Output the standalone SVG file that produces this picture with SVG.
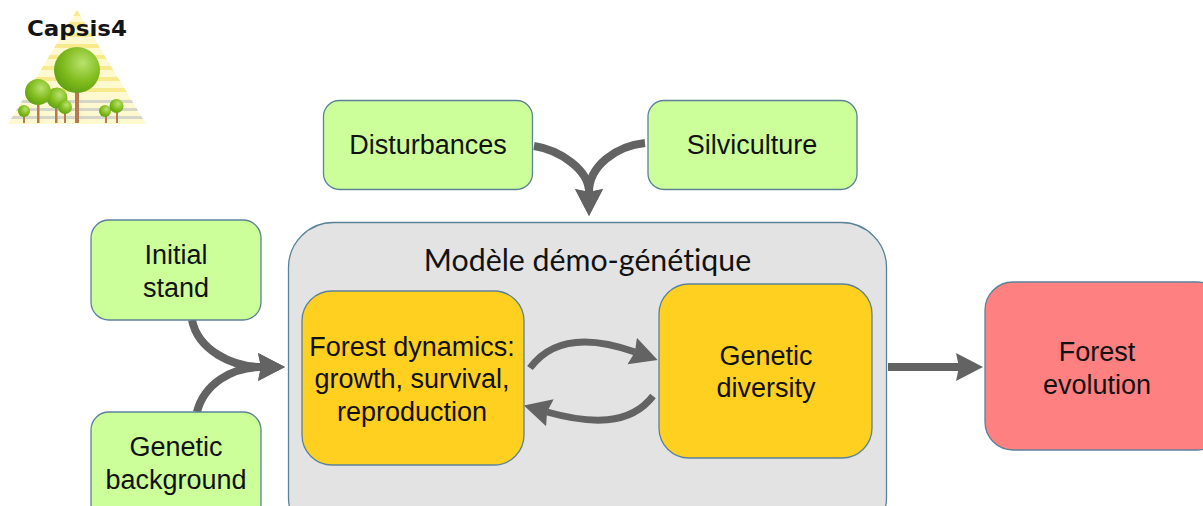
<svg xmlns="http://www.w3.org/2000/svg" width="1203" height="506" viewBox="0 0 1203 506">
<style>
.n{stroke:#5b8299;stroke-width:1.3}
.g{fill:#ccff99}
.y{fill:#ffd01f}
.t{font-family:"Liberation Sans",Arial,sans-serif;font-size:27px;fill:#111;text-anchor:middle}
.c{fill:none;stroke:#636363;stroke-width:8}
.w{stroke-width:7}
.st{fill:#f8ea8c}
.gr{fill:#d6d6c8}
</style>
<defs>
<marker id="h" markerUnits="userSpaceOnUse" markerWidth="32" markerHeight="32" refX="3" refY="15" orient="auto"><path d="M0 1L27 15L0 29L3 15Z" fill="#636363"/></marker>
<radialGradient id="b" cx="0.62" cy="0.35" r="0.7"><stop offset="0" stop-color="#b9e26d"/><stop offset="0.6" stop-color="#7fbb1c"/><stop offset="1" stop-color="#5f9f10"/></radialGradient>
<filter id="s" x="-5%" y="-5%" width="110%" height="110%"><feGaussianBlur stdDeviation="0.7"/></filter>
<clipPath id="tri"><path d="M77 10L146 124H8Z"/></clipPath>
</defs>

<g id="logo" filter="url(#s)">
<path d="M77 10L146 124H8Z" fill="#fff9cf"/>
<g clip-path="url(#tri)">
<rect class="st" x="0" y="10" width="160" height="6"/><rect class="st" x="0" y="22" width="160" height="5"/><rect class="st" x="0" y="33" width="160" height="4"/>
<rect class="st" x="0" y="44" width="160" height="4"/><rect class="st" x="0" y="55" width="160" height="4"/><rect class="st" x="0" y="66" width="160" height="4"/>
<rect class="st" x="0" y="77" width="160" height="4"/><rect class="st" x="0" y="88" width="160" height="4"/>
<rect class="gr" x="0" y="100" width="160" height="3"/><rect class="gr" x="0" y="108" width="160" height="3"/><rect class="gr" x="0" y="116" width="160" height="3"/>
</g>
<rect x="75" y="90" width="4" height="33" fill="#b9794f"/>
<rect x="37" y="100" width="2.500" height="23" fill="#b9794f"/><rect x="55" y="105" width="2.500" height="18" fill="#b9794f"/><rect x="64" y="110" width="2" height="13" fill="#b9794f"/><rect x="23" y="112" width="2" height="11" fill="#b9794f"/><rect x="105" y="112" width="2" height="11" fill="#b9794f"/><rect x="116" y="110" width="2" height="13" fill="#b9794f"/>
<circle cx="57" cy="98" r="10.500" fill="url(#b)"/>
<circle cx="38" cy="92" r="13" fill="url(#b)"/>
<circle cx="65" cy="107" r="7" fill="url(#b)"/>
<circle cx="24" cy="111" r="6" fill="url(#b)"/>
<circle cx="105" cy="111" r="6" fill="url(#b)"/>
<circle cx="116.500" cy="106" r="7" fill="url(#b)"/>
<circle cx="77" cy="70" r="23" fill="url(#b)"/>
</g>
<text x="77" y="36" font-family="'DejaVu Sans',sans-serif" font-weight="bold" font-size="21" fill="#151515" text-anchor="middle" textLength="100" lengthAdjust="spacingAndGlyphs">Capsis4</text>

<g id="model"><rect class="n" x="288.500" y="222.500" width="598" height="320" rx="45" fill="#e3e3e3"/>
<text x="587.500" y="271" font-family="Lato,Carlito,sans-serif" font-size="30.300" fill="#111" text-anchor="middle" style="font-variant-ligatures:none">Modèle démo-génétique</text></g>

<g id="connectors">
<path class="c" d="M534 146C560 150 589 170 589 192" marker-end="url(#h)"/>
<path class="c" d="M645 143C616 146 589 166 589 192" marker-end="url(#h)"/>
<path class="c" d="M192 320C198 350 232 367 261 367" marker-end="url(#h)"/>
<path class="c" d="M197 412C204 384 232 367 261 367" marker-end="url(#h)"/>
<path class="c w" d="M530 368C552 338 590 336 635 352" marker-end="url(#h)"/>
<path class="c w" d="M653 396C630 426 590 424 547 412" marker-end="url(#h)"/>
<path class="c" d="M888 367H959" marker-end="url(#h)"/>
</g>

<g id="disturbances"><rect class="n g" x="323.500" y="100.500" width="209" height="89" rx="16"/><text class="t" x="428" y="154">Disturbances</text></g>
<g id="silviculture"><rect class="n g" x="648" y="100.500" width="209" height="89" rx="16"/><text class="t" x="752" y="154">Silviculture</text></g>
<g id="initial-stand"><rect class="n g" x="91" y="220" width="170" height="100" rx="18"/><text class="t" x="176" y="264">Initial</text><text class="t" x="176" y="297">stand</text></g>
<g id="genetic-background"><rect class="n g" x="91" y="412" width="170" height="110" rx="18"/><text class="t" x="176" y="456">Genetic</text><text class="t" x="176" y="489">background</text></g>
<g id="forest-dynamics"><rect class="n y" x="302" y="291" width="222" height="174" rx="30"/><text class="t" x="412" y="356">Forest dynamics:</text><text class="t" x="412" y="388">growth, survival,</text><text class="t" x="412" y="421">reproduction</text></g>
<g id="genetic-diversity"><rect class="n y" x="659" y="284" width="213" height="174" rx="30"/><text class="t" x="766" y="365">Genetic</text><text class="t" x="766" y="397">diversity</text></g>
<g id="forest-evolution"><rect class="n" x="985" y="282" width="240" height="168" rx="28" fill="#ff8080"/><text class="t" x="1097" y="361">Forest</text><text class="t" x="1097" y="394">evolution</text></g>
</svg>
